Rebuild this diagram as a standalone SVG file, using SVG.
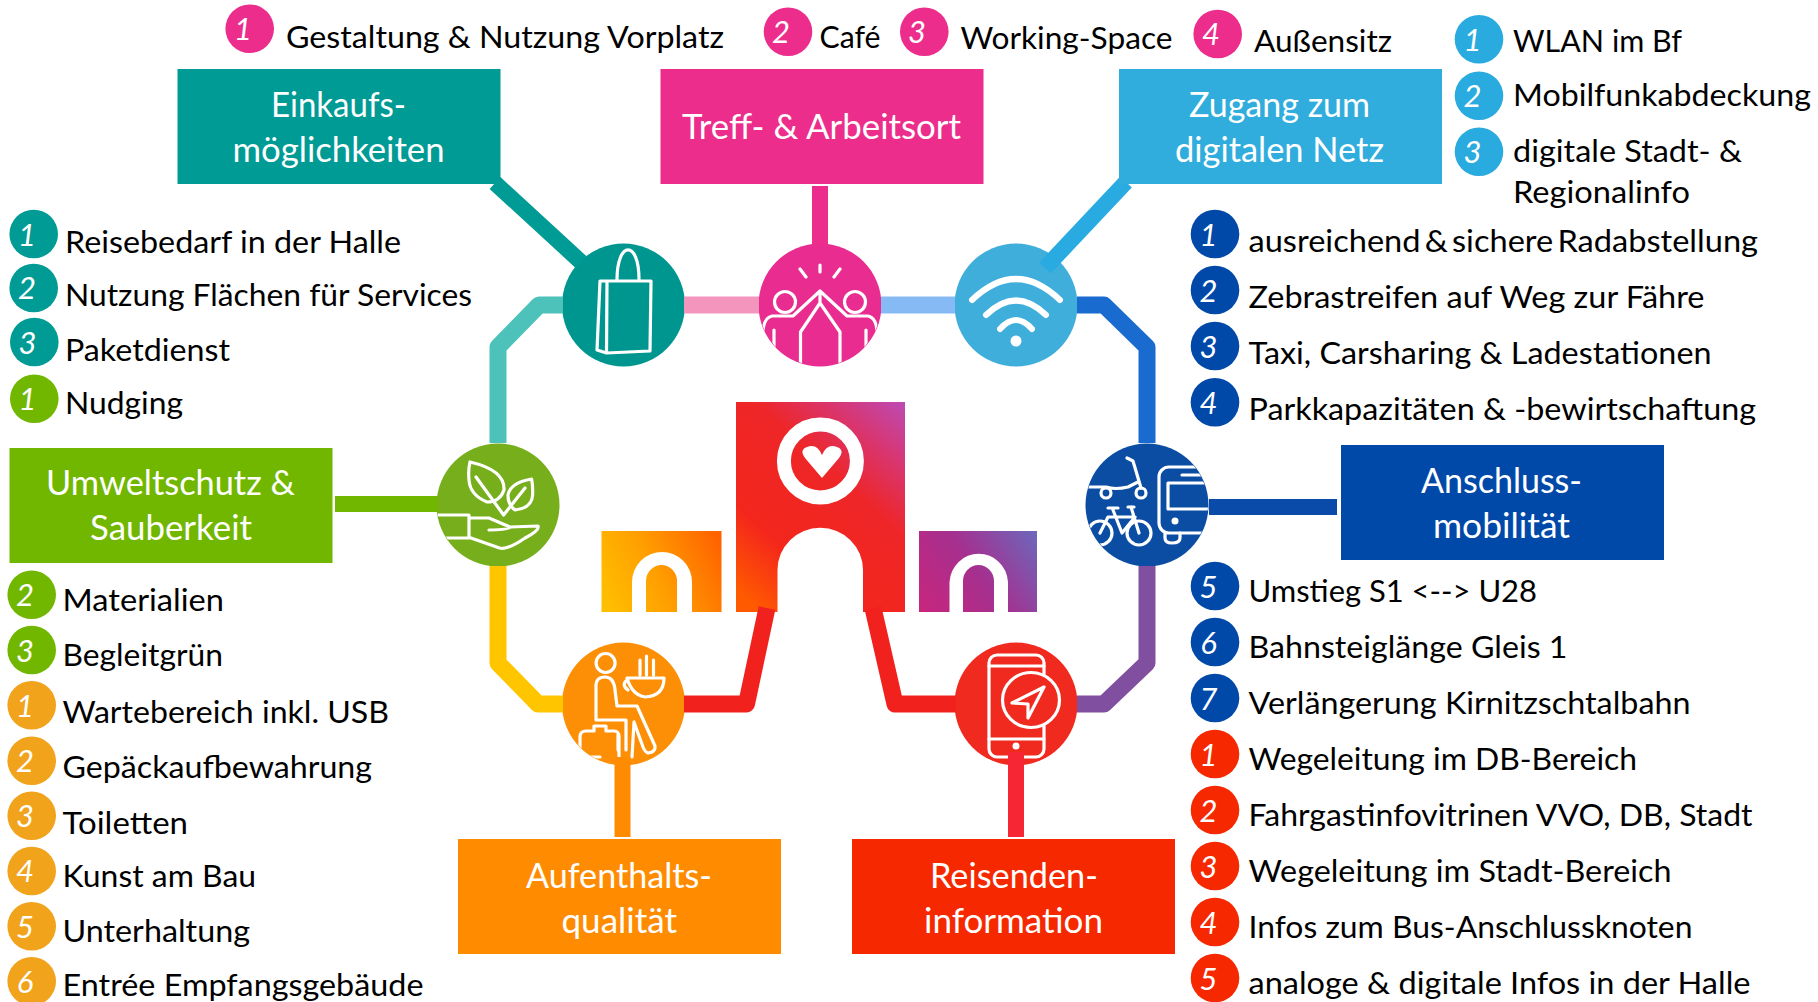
<svg xmlns="http://www.w3.org/2000/svg" width="1818" height="1002" viewBox="0 0 1818 1002">
<style>
text{font-family:"Lato","Carlito","Liberation Sans",sans-serif;transform:translateY(1px)}
.t{font-size:31px;fill:#000}
.h{font-size:34.5px;fill:#fff}
.n{font-size:31px;font-style:italic;fill:#fff;text-anchor:middle}
.ic{fill:none;stroke:#fff;stroke-width:3.2;stroke-linejoin:round;stroke-linecap:round}
.c{fill:none;stroke-linejoin:round}
.teal{fill:#009B94}.pink{fill:#EC2D8C}.sky{fill:#29ABDF}.green{fill:#71B700}.amber{fill:#F0A31B}.navy{fill:#0049A8}.red{fill:#F62800}
</style>
<defs>
<linearGradient id="gm" gradientUnits="userSpaceOnUse" x1="736" y1="590" x2="905" y2="402">
<stop offset="0" stop-color="#FF5A00"/><stop offset=".25" stop-color="#F4261C"/><stop offset=".6" stop-color="#EE2628"/><stop offset=".8" stop-color="#D9356F"/><stop offset="1" stop-color="#BC4BB5"/>
</linearGradient>
<linearGradient id="gl" gradientUnits="userSpaceOnUse" x1="605" y1="600" x2="722" y2="545">
<stop offset="0" stop-color="#FFBE00"/><stop offset=".45" stop-color="#FF9E00"/><stop offset="1" stop-color="#FF6200"/>
</linearGradient>
<linearGradient id="gr" gradientUnits="userSpaceOnUse" x1="919" y1="612" x2="1037" y2="531">
<stop offset="0" stop-color="#C9257C"/><stop offset=".5" stop-color="#A5308F"/><stop offset="1" stop-color="#6C68BC"/>
</linearGradient>
<clipPath id="cp1"><circle cx="820" cy="305" r="61"/></clipPath>
<clipPath id="cp2"><circle cx="1147" cy="505" r="61"/></clipPath>
<clipPath id="cp3"><circle cx="623.5" cy="704" r="61"/></clipPath>
<clipPath id="cp4"><circle cx="498" cy="505" r="61"/></clipPath>
</defs>

<g id="logo">
<path fill="url(#gm)" d="M736,402H905V612H863V570A42.5,42 0 0 0 777.5,570V612H736Z"/>
<path fill="url(#gl)" d="M601.5,531H721.5V612H692V582A30,30 0 0 0 632,582V612H601.5Z"/>
<path fill="url(#gl)" d="M646,612V581A15.5,16 0 0 1 677,581V612Z"/>
<path fill="url(#gr)" d="M919,531H1037V612H1008V582A29.3,30 0 0 0 949.5,582V612H919Z"/>
<path fill="url(#gr)" d="M963,612V581A15.5,16 0 0 1 994,581V612Z"/>
<circle cx="820.4" cy="461" r="36.5" fill="none" stroke="#fff" stroke-width="14"/>
<path fill="#fff" d="M822,478L805,458Q799,450 807,447Q817,443 822,455Q827,443 837,447Q845,450 839,458Z"/>
</g>

<g id="icon-einkauf">
<circle cx="623.5" cy="305" r="61.5" fill="#009690"/>
<path class="ic" d="M600,281L597,350L606.5,353L650,351L651,281L607,281L606.5,353M600,281L607,281M617,280C617,240 639,240 639,279"/>
</g>
<g id="icon-treff">
<circle cx="820" cy="305" r="61.5" fill="#E82C90"/>
<g clip-path="url(#cp1)"><path class="ic" d="M820,265V272M800,269L806,277M840,269L834,277M820,291L793,316H772Q763,318 763,334V372M820,291L847,316H868Q877,318 877,334V372M774,330V372M866,330V372M820,291V303M820,303L800.5,332V372M820,303L840,332V372"/>
<circle class="ic" cx="785" cy="302" r="10.5"/><circle class="ic" cx="855" cy="302" r="10.5"/></g>
</g>
<g id="icon-netz">
<circle cx="1016" cy="305" r="61.5" fill="#3FAEDB"/>
<path fill="none" stroke="#fff" stroke-width="6" stroke-linecap="round" d="M972,300Q1016,258 1060,300M986,315Q1016,286 1046,315M1000,329Q1016,311 1032,329"/>
<circle cx="1016" cy="341" r="5.5" fill="#fff"/>
</g>
<g id="icon-umwelt">
<circle cx="498" cy="505" r="61.5" fill="#76AE1C"/>
<g clip-path="url(#cp4)"><path class="ic" d="M470,462Q505,470 504,490Q500,502 487,502Q470,495 469,480Q468,470 470,462ZM476,477L503.6,515M531.6,479Q510,483 508,495Q508,505 515,510Q532,508 532.6,495Q533,486 531.6,479ZM525,488L503.6,515M432,515H469V538H432M471,518H489L510,527Q510,530 489,530M510,527L538,526Q540,530 525,538Q508,550 499.5,548L471,538"/></g>
</g>
<g id="icon-anschluss">
<circle cx="1147" cy="505" r="61.5" fill="#0B4DA2"/>
<g clip-path="url(#cp2)"><path class="ic" d="M1127,458L1133,461L1141,488M1086,487H1106Q1115,490 1128,487L1138,482"/>
<circle class="ic" cx="1106" cy="493" r="5"/><circle class="ic" cx="1141" cy="493" r="5"/>
<circle class="ic" cx="1139" cy="533" r="12"/><circle class="ic" cx="1100" cy="533" r="12"/>
<path class="ic" d="M1128,507L1134,507M1131,507L1139,533M1108,508H1118M1113,510L1122,533L1135,517H1108L1100,533"/>
<rect class="ic" x="1159" y="467" width="70" height="66" rx="10"/>
<path class="ic" d="M1182,475H1210M1210,483H1168V509H1210M1165,533V538Q1165,543 1172,543Q1180,543 1180,538V533"/>
<circle cx="1175" cy="521" r="3.5" fill="#fff"/></g>
</g>
<g id="icon-aufenthalt">
<circle cx="623.5" cy="704" r="61.5" fill="#FC8F05"/>
<g clip-path="url(#cp3)"><circle class="ic" cx="605.6" cy="663" r="9.5"/>
<path class="ic" d="M596,720V686Q596,677 605,677Q614,677 615,690L617,706H637L655,746Q656,752 648,753Q645,752 643,747L634,722L632,757M596,720H626V750M618,750V735"/>
<path class="ic" d="M580,760V737Q580,731 586,731H594V726H606V731H614Q619,731 619,737V760M580,757H600"/>
<path class="ic" d="M627,678H664Q664,696 645,697Q632,695 627,678ZM627,680Q621,685 628,690M640,660V675M646.5,656V675M653.5,660V675"/></g>
</g>
<g id="icon-reisen">
<circle cx="1016" cy="704" r="61.5" fill="#F02A1E"/>
<rect class="ic" x="989" y="655" width="55" height="102" rx="8"/>
<path class="ic" d="M989,666H1044M989,739H1044"/>
<circle cx="1016" cy="746" r="3.5" fill="#fff"/>
<ellipse cx="1031" cy="700" rx="28.5" ry="27.5" fill="#F02A1E" stroke="#fff" stroke-width="3.2"/>
<path class="ic" d="M1044,687L1012,703L1028,704L1028,718Z"/>
</g>

<g id="connectors" class="c">
<path stroke="#4DC2BB" stroke-width="17" class="c" d="M563,305H539L498,347V443"/>
<path stroke="#F495BE" stroke-width="17" class="c" d="M684,305H759"/>
<path stroke="#85BAF5" stroke-width="17" class="c" d="M881,305H955"/>
<path stroke="#1A6BD0" stroke-width="17" class="c" d="M1077,305H1104L1147,347V443"/>
<path stroke="#FFC600" stroke-width="17" class="c" d="M498,566V663L538,704H563"/>
<path stroke="#814FA0" stroke-width="17" class="c" d="M1147,566V663L1104,704H1077"/>
<path stroke="#F1221E" stroke-width="17" class="c" d="M684,704H746.5L767,608"/>
<path stroke="#F1221E" stroke-width="17" class="c" d="M956,704H895L873,608"/>
<path stroke="#009B94" stroke-width="16" class="c" d="M495,183L581,262"/>
<path stroke="#EC2D8C" stroke-width="16" class="c" d="M820,186V244"/>
<path stroke="#29ABE2" stroke-width="16" class="c" d="M1126,182L1045,268"/>
<path stroke="#71B700" stroke-width="16" class="c" d="M335,504H438"/>
<path stroke="#0A4AA8" stroke-width="16" class="c" d="M1209,507H1337"/>
<path stroke="#FF8C00" stroke-width="16" class="c" d="M622.5,757V837"/>
<path stroke="#F72634" stroke-width="16" class="c" d="M1016,752V837"/>
</g>

<g id="node-einkauf"><rect x="177.5" y="69" width="323" height="115" fill="#009B94"/>
<text class="h" x="271" y="116" textLength="135" lengthAdjust="spacingAndGlyphs">Einkaufs-</text>
<text class="h" x="232.5" y="160.7" textLength="212" lengthAdjust="spacingAndGlyphs">möglichkeiten</text></g>
<g id="node-treff"><rect x="660.5" y="69" width="323" height="115" fill="#EC2D8C"/>
<text class="h" x="682" y="138.3" textLength="279" lengthAdjust="spacingAndGlyphs">Treff- &amp; Arbeitsort</text></g>
<g id="node-netz"><rect x="1119" y="69" width="323" height="115" fill="#30ADDD"/>
<text class="h" x="1189" y="116" textLength="181" lengthAdjust="spacingAndGlyphs">Zugang zum</text>
<text class="h" x="1175" y="160.7" textLength="209" lengthAdjust="spacingAndGlyphs">digitalen Netz</text></g>
<g id="node-umwelt"><rect x="9.5" y="448" width="323" height="115" fill="#71B700"/>
<text class="h" x="46" y="494" textLength="249" lengthAdjust="spacingAndGlyphs">Umweltschutz &amp;</text>
<text class="h" x="90" y="539" textLength="162" lengthAdjust="spacingAndGlyphs">Sauberkeit</text></g>
<g id="node-anschluss"><rect x="1341" y="445" width="323" height="115" fill="#0049A8"/>
<text class="h" x="1421" y="492" textLength="161" lengthAdjust="spacingAndGlyphs">Anschluss-</text>
<text class="h" x="1433" y="537" textLength="137" lengthAdjust="spacingAndGlyphs">mobilität</text></g>
<g id="node-aufenthalt"><rect x="458" y="839" width="323" height="115" fill="#FF8C00"/>
<text class="h" x="526" y="886.7" textLength="186" lengthAdjust="spacingAndGlyphs">Aufenthalts-</text>
<text class="h" x="561.5" y="931.7" textLength="115.5" lengthAdjust="spacingAndGlyphs">qualität</text></g>
<g id="node-reisen"><rect x="852" y="839" width="323" height="115" fill="#F62800"/>
<text class="h" x="930" y="886.7" textLength="168" lengthAdjust="spacingAndGlyphs">Reisenden-</text>
<text class="h" x="924" y="931.7" textLength="179" lengthAdjust="spacingAndGlyphs">information</text></g>

<g id="list-treff">
<circle class="pink" cx="249.7" cy="28.7" r="24.3"/><text class="n" x="243" y="39">1</text><text class="t" x="286" y="46.7" textLength="438" lengthAdjust="spacingAndGlyphs">Gestaltung &amp; Nutzung Vorplatz</text>
<circle class="pink" cx="788" cy="31.7" r="24.3"/><text class="n" x="781" y="42">2</text><text class="t" x="819.5" y="46.7" textLength="61" lengthAdjust="spacingAndGlyphs">Café</text>
<circle class="pink" cx="924.3" cy="31.7" r="24.3"/><text class="n" x="917" y="42">3</text><text class="t" x="960.5" y="48.3" textLength="212" lengthAdjust="spacingAndGlyphs">Working-Space</text>
<circle class="pink" cx="1217.7" cy="34" r="24.3"/><text class="n" x="1211" y="44">4</text><text class="t" x="1254" y="51" textLength="138" lengthAdjust="spacingAndGlyphs">Außensitz</text>
</g>
<g id="list-netz">
<circle class="sky" cx="1479" cy="39.3" r="24.3"/><text class="n" x="1472.5" y="50">1</text><text class="t" x="1513" y="51" textLength="169" lengthAdjust="spacingAndGlyphs">WLAN im Bf</text>
<circle class="sky" cx="1479" cy="95.7" r="24.3"/><text class="n" x="1472.5" y="106">2</text><text class="t" x="1513" y="105" textLength="298" lengthAdjust="spacingAndGlyphs">Mobilfunkabdeckung</text>
<circle class="sky" cx="1479" cy="151.7" r="24.3"/><text class="n" x="1472.5" y="162">3</text><text class="t" x="1513" y="161" textLength="229" lengthAdjust="spacingAndGlyphs">digitale Stadt- &amp;</text><text class="t" x="1513" y="202.3" textLength="177" lengthAdjust="spacingAndGlyphs">Regionalinfo</text>
</g>
<g id="list-einkauf">
<circle class="teal" cx="33.7" cy="234" r="24.3"/><text class="n" x="27" y="245">1</text><text class="t" x="65" y="251.7" textLength="336" lengthAdjust="spacingAndGlyphs">Reisebedarf in der Halle</text>
<circle class="teal" cx="33.7" cy="288" r="24.3"/><text class="n" x="27" y="298">2</text><text class="t" x="65" y="305" textLength="407" lengthAdjust="spacingAndGlyphs">Nutzung Flächen für Services</text>
<circle class="teal" cx="34.3" cy="342" r="24.3"/><text class="n" x="27.5" y="353">3</text><text class="t" x="65" y="360" textLength="165" lengthAdjust="spacingAndGlyphs">Paketdienst</text>
</g>
<g id="list-umwelt">
<circle class="green" cx="34.3" cy="398.7" r="24.3"/><text class="n" x="27.5" y="409">1</text><text class="t" x="65" y="413" textLength="118" lengthAdjust="spacingAndGlyphs">Nudging</text>
<circle class="green" cx="31.7" cy="594.7" r="24.3"/><text class="n" x="25" y="605">2</text><text class="t" x="62.5" y="610" textLength="161.5" lengthAdjust="spacingAndGlyphs">Materialien</text>
<circle class="green" cx="31.7" cy="650" r="24.3"/><text class="n" x="25" y="661">3</text><text class="t" x="62.5" y="665" textLength="160.5" lengthAdjust="spacingAndGlyphs">Begleitgrün</text>
</g>
<g id="list-aufenthalt">
<circle class="amber" cx="31.7" cy="705.3" r="24.3"/><text class="n" x="25" y="716">1</text><text class="t" x="62.5" y="722.3" textLength="326.5" lengthAdjust="spacingAndGlyphs">Wartebereich inkl. USB</text>
<circle class="amber" cx="31.7" cy="760.7" r="24.3"/><text class="n" x="25" y="771">2</text><text class="t" x="62.5" y="777" textLength="309.5" lengthAdjust="spacingAndGlyphs">Gepäckaufbewahrung</text>
<circle class="amber" cx="31.7" cy="815.7" r="24.3"/><text class="n" x="25" y="826">3</text><text class="t" x="62.5" y="832.7" textLength="125.5" lengthAdjust="spacingAndGlyphs">Toiletten</text>
<circle class="amber" cx="31.7" cy="871" r="24.3"/><text class="n" x="25" y="881">4</text><text class="t" x="62.5" y="886" textLength="193.5" lengthAdjust="spacingAndGlyphs">Kunst am Bau</text>
<circle class="amber" cx="31.7" cy="926.3" r="24.3"/><text class="n" x="25" y="937">5</text><text class="t" x="62.5" y="941" textLength="187.5" lengthAdjust="spacingAndGlyphs">Unterhaltung</text>
<circle class="amber" cx="31.7" cy="981.3" r="24.3"/><text class="n" x="25" y="992">6</text><text class="t" x="62.5" y="995" textLength="361" lengthAdjust="spacingAndGlyphs">Entrée Empfangsgebäude</text>
</g>
<g id="list-anschluss">
<circle class="navy" cx="1215" cy="234" r="24.3"/><text class="n" x="1208.5" y="245">1</text><text class="t" x="1248.5" y="250.7" textLength="509.5" lengthAdjust="spacingAndGlyphs" style="word-spacing:-4px">ausreichend &amp; sichere Radabstellung</text>
<circle class="navy" cx="1215" cy="290" r="24.3"/><text class="n" x="1208.5" y="301">2</text><text class="t" x="1248.5" y="307" textLength="456" lengthAdjust="spacingAndGlyphs">Zebrastreifen auf Weg zur Fähre</text>
<circle class="navy" cx="1215" cy="346" r="24.3"/><text class="n" x="1208.5" y="357">3</text><text class="t" x="1248.5" y="363" textLength="463" lengthAdjust="spacingAndGlyphs">Taxi, Carsharing &amp; Ladestationen</text>
<circle class="navy" cx="1215" cy="402.3" r="24.3"/><text class="n" x="1208.5" y="413">4</text><text class="t" x="1248.5" y="419" textLength="507.5" lengthAdjust="spacingAndGlyphs">Parkkapazitäten &amp; -bewirtschaftung</text>
<circle class="navy" cx="1215" cy="586" r="24.3"/><text class="n" x="1208.5" y="597">5</text><text class="t" x="1248.5" y="601.3" textLength="288.5" lengthAdjust="spacingAndGlyphs">Umstieg S1 &lt;--&gt; U28</text>
<circle class="navy" cx="1215" cy="642" r="24.3"/><text class="n" x="1208.5" y="653">6</text><text class="t" x="1248.5" y="657.3" textLength="319" lengthAdjust="spacingAndGlyphs">Bahnsteiglänge Gleis 1</text>
<circle class="navy" cx="1215" cy="698" r="24.3"/><text class="n" x="1208.5" y="709">7</text><text class="t" x="1248.5" y="713.3" textLength="442" lengthAdjust="spacingAndGlyphs">Verlängerung Kirnitzschtalbahn</text>
</g>
<g id="list-reisen">
<circle class="red" cx="1215" cy="754" r="24.3"/><text class="n" x="1208.5" y="765">1</text><text class="t" x="1248.5" y="769.3" textLength="388.5" lengthAdjust="spacingAndGlyphs">Wegeleitung im DB-Bereich</text>
<circle class="red" cx="1215" cy="810" r="24.3"/><text class="n" x="1208.5" y="821">2</text><text class="t" x="1248.5" y="825.3" textLength="504" lengthAdjust="spacingAndGlyphs">Fahrgastinfovitrinen VVO, DB, Stadt</text>
<circle class="red" cx="1215" cy="866" r="24.3"/><text class="n" x="1208.5" y="877">3</text><text class="t" x="1248.5" y="881.3" textLength="423" lengthAdjust="spacingAndGlyphs">Wegeleitung im Stadt-Bereich</text>
<circle class="red" cx="1215" cy="922" r="24.3"/><text class="n" x="1208.5" y="933">4</text><text class="t" x="1248.5" y="937.3" textLength="444" lengthAdjust="spacingAndGlyphs">Infos zum Bus-Anschlussknoten</text>
<circle class="red" cx="1215" cy="978" r="24.3"/><text class="n" x="1208.5" y="989">5</text><text class="t" x="1248.5" y="993.3" textLength="502" lengthAdjust="spacingAndGlyphs">analoge &amp; digitale Infos in der Halle</text>
</g>
</svg>
